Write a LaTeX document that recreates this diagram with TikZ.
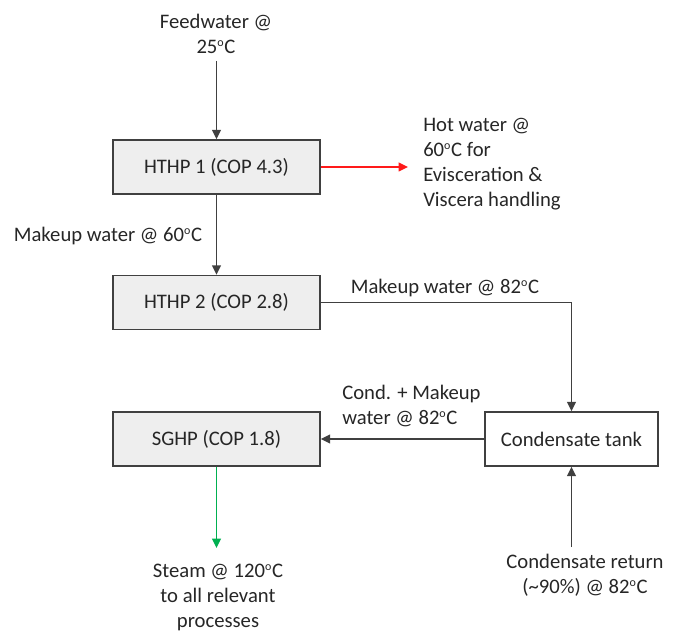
\documentclass[tikz,border=0pt]{standalone}
\usepackage{fontspec}
\setmainfont{Carlito}
\usetikzlibrary{arrows.meta}
\definecolor{txt}{HTML}{262626}
\definecolor{ln}{HTML}{404040}
\definecolor{boxfill}{HTML}{EEEEEE}
\definecolor{grn}{HTML}{00B050}
\definecolor{rd}{HTML}{FF1A1A}
\newcommand{\dg}{\textsuperscript{\fontsize{9}{9}\selectfont o}}
\tikzset{
  every node/.style={text=txt,font=\fontsize{15.5}{18.75}\selectfont},
  procbox/.style={draw=ln,line width=1.1pt,fill=boxfill,minimum width=155.25pt,minimum height=40.5pt,inner sep=0pt},
  tankbox/.style={draw=ln,line width=1.1pt,fill=white,minimum width=129.75pt,minimum height=40.5pt,inner sep=0pt},
  lbl/.style={inner sep=0pt,align=center},
  flow/.style={color=ln,line width=1.1pt,-{Triangle[length=7pt,width=6.5pt]}},
}
\begin{document}
\begin{tikzpicture}[x=0.75pt,y=-0.75pt]
\useasboundingbox (0,0) rectangle (675,634);
% boxes
\node[procbox] (h1) at (216.5,167) {HTHP 1 (COP 4.3)};
\node[procbox] (h2) at (216.5,302.5) {HTHP 2 (COP 2.8)};
\node[procbox] (sg) at (216.5,439) {SGHP (COP 1.8)};
\node[tankbox] (tank) at (571.5,439) {Condensate tank};
% labels
\node[lbl] (feed) at (216,34) {Feedwater @\\25\dg C};
\node[lbl,align=left,anchor=west] (hot) at (423,164) {Hot water @\\60\dg C for\\Evisceration \&\\Viscera handling};
\node[lbl] (mk60) at (108,236) {Makeup water @ 60\dg C};
\node[lbl] (mk82) at (445,288) {Makeup water @ 82\dg C};
\node[lbl,align=left,anchor=west] (cond) at (342,406) {Cond. + Makeup\\water @ 82\dg C};
\node[lbl] (steam) at (218,597) {Steam @ 120\dg C\\to all relevant\\processes};
\node[lbl] (ret) at (585,575) {Condensate return\\(\textasciitilde90\%) @ 82\dg C};
% free ends
\coordinate (feedend) at (216.5,61);
\coordinate (hotend) at (408,167);
\coordinate (steamend) at (216.5,548);
\coordinate (retend) at (571.5,547);
% connectors
\draw[flow] (feedend) -- (h1.north);
\draw[flow,color=rd] (h1.east) -- (hotend);
\draw[flow] (h1.south) -- (h2.north);
\draw[flow] (h2.east) -| (tank.north);
\draw[flow] (tank.west) -- (sg.east);
\draw[flow,color=grn,line width=1.3pt] (sg.south) -- (steamend);
\draw[flow] (retend) -- (tank.south);
\end{tikzpicture}
\end{document}
